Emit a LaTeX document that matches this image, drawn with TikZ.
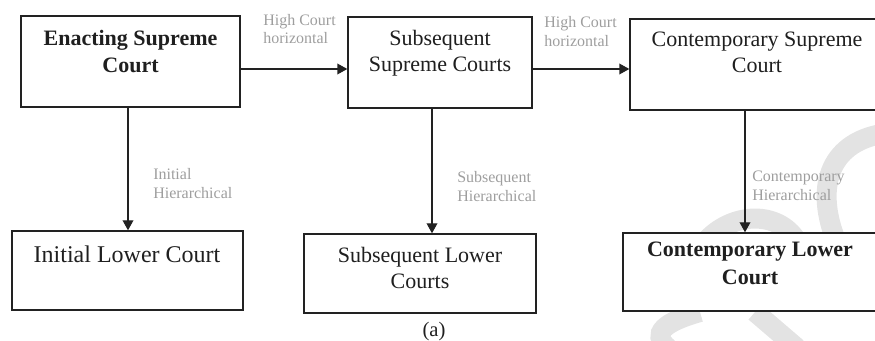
\documentclass[tikz,border=0pt]{standalone}
\usepackage{fontspec}
\setmainfont{Liberation Serif}
\usetikzlibrary{arrows.meta}
\definecolor{lineclr}{HTML}{222222}
\definecolor{lblclr}{HTML}{9E9E9E}
\definecolor{wmclr}{HTML}{E3E3E3}
\tikzset{
  courtbox/.style={draw=lineclr, line width=1pt, fill=white, rectangle, inner sep=0pt},
  boxtext/.style={anchor=north, inner sep=0pt, align=center, text=black!88, font=\fontsize{16.5}{19.8}\selectfont},
  lbl/.style={anchor=north west, inner sep=0pt, align=left, text=lblclr, font=\fontsize{12}{13.8}\selectfont},
  arr/.style={draw=lineclr, line width=1pt, -{Triangle[length=7.5pt,width=8pt]}},
  wm/.style={draw=wmclr, line width=15pt}
}
\begin{document}
\begin{tikzpicture}[x=0.75pt,y=-0.75pt]
\useasboundingbox (0,0) rectangle (875,341);
% watermark
\draw[wm] (888,133) .. controls (830,140) and (815,185) .. (835,238);
\draw[wm] (705,242) .. controls (730,213) and (775,210) .. (795,238);
\draw[wm] (700,312) .. controls (665,322) and (650,333) .. (668,348);
\draw[wm] (755,312) -- (797,348);
% boxes
\node[courtbox, minimum width=219*0.75pt, minimum height=91*0.75pt] (b1) at (130.5,61.5) {};
\node[courtbox, minimum width=184*0.75pt, minimum height=91*0.75pt] (b2) at (440,62.5) {};
\node[courtbox, minimum width=254*0.75pt, minimum height=91*0.75pt] (b3) at (757,64.5) {};
\node[courtbox, minimum width=231*0.75pt, minimum height=79*0.75pt] (b4) at (127.5,270.5) {};
\node[courtbox, minimum width=232*0.75pt, minimum height=79*0.75pt] (b5) at (420,273.5) {};
\node[courtbox, minimum width=254*0.75pt, minimum height=78*0.75pt] (b6) at (750,272) {};
% box texts
\node[boxtext, font=\fontsize{16.5}{20.2}\selectfont\bfseries] (t1) at (130.5,30.4) {Enacting Supreme\\Court};
\node[boxtext] (t2) at (440,30) {Subsequent\\Supreme Courts};
\node[boxtext] (t3) at (757,31.7) {Contemporary Supreme\\Court};
\node[boxtext, font=\fontsize{18}{21.6}\selectfont] (t4) at (127,245.6) {Initial Lower Court};
\node[boxtext] (t5) at (420,246.7) {Subsequent Lower\\Courts};
\node[boxtext, font=\fontsize{16.5}{21}\selectfont\bfseries] (t6) at (750,241.8) {Contemporary Lower\\Court};
% helper coordinates for connector positions
\coordinate (h1) at (0,69);
\coordinate (h2) at (0,69);
\coordinate (v1) at (128,0);
\coordinate (v2) at (432,0);
\coordinate (v3) at (745,0);
% connectors
\draw[arr] (b1.east |- h1) -- (b2.west |- h1);
\draw[arr] (b2.east |- h2) -- (b3.west |- h2);
\draw[arr] (b1.south -| v1) -- (b4.north -| v1);
\draw[arr] (b2.south -| v2) -- (b5.north -| v2);
\draw[arr] (b3.south -| v3) -- (b6.north -| v3);
% labels
\node[lbl] (l1) at (263,14) {High Court\\horizontal};
\node[lbl] (l2) at (544,16.3) {High Court\\horizontal};
\node[lbl] (l3) at (153,168.3) {Initial\\Hierarchical};
\node[lbl] (l4) at (457,171.3) {Subsequent\\Hierarchical};
\node[lbl] (l5) at (752,170.9) {Contemporary\\Hierarchical};
% caption
\node[anchor=base, inner sep=0pt, text=black!88, font=\fontsize{15.5}{18}\selectfont] (cap) at (434,337) {(a)};
\end{tikzpicture}
\end{document}
